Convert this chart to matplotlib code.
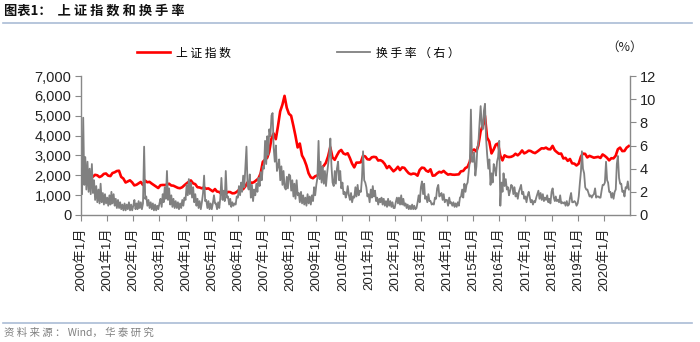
import matplotlib
matplotlib.use("Agg")
import matplotlib.pyplot as plt
import pandas as pd

plt.rcParams['font.family'] = ['Liberation Sans', 'Noto Sans CJK SC', 'DejaVu Sans']

# ---------------- data ----------------
years = list(range(2000, 2021))
tick_labels = [f"{y}年1月" for y in years]

# Shanghai Composite index, monthly (approx. mid-month), 2000-01 .. 2020-12
sse_index = [
    1560, 1714, 1800, 1836, 1894, 1928, 2023, 2000, 1910, 1961, 2070, 2090,   # 2000
    1980, 1960, 2112, 2150, 2214, 2230, 1920, 1834, 1636, 1690, 1746, 1646,   # 2001
    1491, 1524, 1594, 1665, 1515, 1732, 1649, 1669, 1582, 1507, 1426, 1358,   # 2002
    1500, 1512, 1510, 1521, 1576, 1487, 1476, 1421, 1367, 1349, 1397, 1497,   # 2003
    1590, 1675, 1742, 1595, 1555, 1400, 1386, 1342, 1396, 1320, 1341, 1267,   # 2004
    1191, 1306, 1181, 1159, 1060, 1081, 1083, 1162, 1155, 1092, 1099, 1161,   # 2005
    1259, 1299, 1299, 1440, 1641, 1672, 1612, 1658, 1752, 1837, 2099, 2675,   # 2006
    2786, 2881, 3183, 3841, 4109, 3820, 4471, 5218, 5552, 6000, 5400, 5100,   # 2007
    5000, 4500, 4000, 3400, 3600, 3000, 2800, 2500, 2100, 1900, 1850, 1950,   # 2008
    1991, 2082, 2374, 2477, 2633, 2959, 3412, 2900, 2779, 2996, 3195, 3277,   # 2009
    3100, 3051, 3110, 2871, 2592, 2398, 2638, 2639, 2655, 2979, 2950, 2808,   # 2010
    2790, 2905, 2928, 2911, 2743, 2762, 2701, 2568, 2359, 2468, 2333, 2199,   # 2011
    2293, 2429, 2263, 2397, 2373, 2225, 2103, 2047, 2086, 2069, 1980, 2269,   # 2012
    2385, 2366, 2237, 2178, 2301, 1979, 1994, 2098, 2175, 2141, 2221, 2116,   # 2013
    2033, 2056, 2033, 2026, 2039, 2048, 2202, 2217, 2364, 2420, 2683, 3235,   # 2014
    3300, 3200, 3500, 4200, 4500, 5000, 3900, 3700, 3100, 3300, 3550, 3600,   # 2015
    3000, 2750, 3004, 2938, 2917, 2930, 2979, 3085, 3005, 3100, 3250, 3104,   # 2016
    3159, 3242, 3223, 3155, 3117, 3192, 3273, 3361, 3349, 3393, 3317, 3307,   # 2017
    3481, 3259, 3169, 3082, 3095, 2847, 2876, 2725, 2821, 2603, 2588, 2494,   # 2018
    2585, 2941, 3091, 3078, 2899, 2979, 2932, 2886, 2905, 2929, 2872, 3050,   # 2019
    2977, 2880, 2750, 2860, 2852, 2985, 3310, 3396, 3218, 3225, 3392, 3473,   # 2020
]

# Turnover rate (%), twice per month (band high / low readings), 2000-01 .. 2020-12
turnover = [
    4.0, 1.8, 8.4, 2.6, 5.0, 2.2, 4.6, 2.0, 4.0, 1.8, 4.4, 1.9, 3.0, 1.3, 2.5, 1.1, 2.2, 1.0, 2.7, 1.1, 1.9, 0.9, 1.8, 1.0,  # 2000
    1.5, 0.8, 1.7, 0.9, 2.0, 1.0, 1.8, 0.8, 1.4, 0.6, 1.3, 0.6, 1.1, 0.5, 0.9, 0.4, 1.0, 0.4, 0.9, 0.5, 1.1, 0.4, 0.9, 0.4,  # 2001
    0.8, 1.3, 0.5, 1.0, 0.5, 1.2, 0.6, 1.1, 0.5, 1.0, 5.9, 1.4, 1.6, 0.8, 1.3, 0.6, 1.1, 0.5, 1.0, 0.4, 0.9, 0.4, 0.8, 0.5,  # 2002
    1.0, 1.4, 0.7, 1.8, 1.1, 2.4, 1.4, 3.8, 1.3, 2.3, 0.9, 1.7, 0.7, 1.4, 0.6, 1.2, 0.6, 1.1, 0.5, 1.0, 0.6, 1.3, 0.8, 1.5,  # 2003
    1.3, 2.6, 1.7, 3.1, 1.8, 2.8, 1.5, 2.4, 1.1, 1.8, 0.8, 1.4, 0.6, 1.2, 0.5, 1.1, 1.9, 3.4, 1.2, 1.3, 0.6, 1.2, 0.5, 1.0,  # 2004
    0.5, 1.0, 1.7, 1.0, 1.0, 0.5, 1.1, 0.6, 1.5, 3.2, 1.3, 2.1, 1.2, 3.8, 1.5, 1.6, 0.9, 1.4, 0.7, 1.1, 0.8, 1.0, 0.9, 1.6,  # 2005
    1.5, 2.5, 1.7, 2.8, 2.0, 3.4, 2.4, 4.2, 5.9, 2.6, 2.2, 3.5, 1.5, 2.6, 1.2, 2.2, 1.7, 2.7, 2.0, 3.2, 2.5, 3.7, 3.0, 4.2,  # 2006
    4.0, 6.4, 4.4, 6.8, 5.2, 7.4, 6.8, 8.6, 8.8, 5.8, 4.6, 6.0, 3.8, 4.2, 4.8, 3.0, 4.2, 2.6, 3.8, 2.4, 2.2, 3.3, 2.3, 3.5,  # 2007
    3.4, 2.1, 3.0, 1.6, 2.7, 1.4, 3.0, 1.7, 1.9, 1.1, 2.0, 1.0, 1.7, 0.9, 1.5, 0.8, 1.8, 1.0, 1.6, 0.9, 1.7, 1.2, 2.4, 1.7,  # 2008
    2.6, 3.2, 6.4, 3.1, 4.6, 2.8, 4.2, 2.7, 3.8, 2.5, 3.6, 4.4, 5.2, 6.6, 4.2, 2.8, 2.5, 3.8, 2.7, 4.0, 4.6, 3.0, 3.8, 2.3,  # 2009
    2.8, 1.8, 2.0, 1.5, 1.8, 2.5, 1.7, 1.3, 1.9, 1.1, 1.6, 1.5, 2.4, 1.6, 2.6, 1.7, 2.1, 2.0, 3.2, 5.5, 3.0, 2.8, 2.4, 1.6,  # 2010
    1.8, 1.1, 2.2, 1.5, 2.5, 1.6, 2.1, 1.2, 1.5, 0.9, 1.4, 1.1, 1.5, 0.9, 1.4, 0.8, 1.2, 0.7, 1.4, 0.8, 1.2, 0.7, 1.1, 0.6,  # 2011
    0.6, 1.1, 1.5, 1.0, 1.5, 0.9, 1.7, 0.9, 1.4, 0.8, 1.0, 0.6, 0.9, 0.5, 0.8, 0.5, 0.9, 0.5, 0.8, 0.5, 0.6, 1.1, 1.7, 1.1,  # 2012
    2.4, 2.9, 1.8, 2.7, 1.4, 1.6, 1.1, 1.8, 1.2, 1.2, 0.9, 1.0, 0.9, 1.5, 1.4, 2.3, 2.6, 1.6, 1.7, 1.9, 1.3, 1.8, 1.1, 1.3,  # 2013
    1.3, 0.8, 1.5, 1.0, 1.1, 0.8, 1.1, 0.7, 1.0, 0.7, 1.1, 0.8, 1.5, 1.6, 2.2, 1.5, 2.7, 2.0, 2.6, 2.8, 3.8, 4.6, 9.1, 4.6,  # 2014
    4.6, 5.4, 3.4, 4.2, 5.8, 6.2, 8.0, 9.4, 7.8, 7.4, 9.0, 9.6, 6.6, 5.2, 4.0, 4.8, 2.6, 3.6, 2.8, 4.4, 4.0, 3.4, 4.6, 5.0,  # 2015
    6.4, 0.8, 2.8, 2.0, 3.6, 2.5, 3.1, 2.2, 2.4, 1.7, 2.1, 2.6, 2.5, 1.8, 2.4, 1.6, 1.9, 1.4, 2.0, 2.3, 2.6, 1.8, 2.0, 1.4,  # 2016
    1.6, 1.1, 1.7, 2.0, 1.6, 1.1, 1.3, 0.9, 1.2, 1.1, 1.5, 1.8, 2.1, 1.4, 1.9, 1.3, 1.8, 1.2, 1.5, 1.3, 1.7, 1.1, 1.4, 1.0,  # 2017
    2.0, 2.3, 1.5, 1.2, 1.6, 1.2, 1.3, 1.1, 1.7, 1.0, 1.1, 1.0, 1.1, 0.8, 1.2, 0.8, 0.9, 1.5, 1.9, 1.1, 1.1, 1.2, 1.1, 0.8,  # 2018
    1.0, 1.6, 2.8, 3.8, 5.5, 4.0, 3.6, 2.4, 2.2, 2.2, 1.9, 1.6, 1.7, 1.5, 1.7, 1.8, 2.3, 1.5, 1.6, 1.6, 1.5, 1.5, 2.1, 2.6,  # 2019
    2.6, 2.8, 4.6, 3.0, 2.8, 2.0, 2.0, 1.5, 1.9, 1.4, 2.0, 2.2, 4.4, 5.1, 3.2, 2.7, 2.7, 2.0, 2.1, 1.6, 2.4, 2.3, 2.9, 2.2,  # 2020
]

idx_dates = pd.date_range("2000-01-01", periods=len(sse_index), freq="MS") + pd.Timedelta(days=14)
months = pd.date_range("2000-01-01", periods=len(turnover) // 2, freq="MS")
to_dates = []
for m in months:
    to_dates.append(m)
    to_dates.append(m + pd.Timedelta(days=15))

# ---------------- figure ----------------
W, H = 700, 342
fig = plt.figure(figsize=(W / 100, H / 100), dpi=100)
ax = fig.add_axes([81 / W, 1 - 215 / H, (630 - 81) / W, (215 - 76) / H])
ax2 = ax.twinx()

spine_c = "#898989"
red = "#ff0000"
gray = "#808080"

l1, = ax.plot(idx_dates, sse_index, color=red, lw=1.9, label="上 证 指 数")
l2, = ax2.plot(to_dates, turnover, color=gray, lw=1.3, label="换 手 率 （ 右 ）")

ax.set_xlim(pd.Timestamp("2000-01-01"), pd.Timestamp("2021-01-01"))
ax.set_ylim(0, 7000)
ax2.set_ylim(0, 12)
ax.set_yticks(range(0, 7001, 1000))
ax.set_yticklabels([f"{v:,}" for v in range(0, 7001, 1000)])
ax2.set_yticks(range(0, 13, 2))

tick_dates = [pd.Timestamp(f"{y}-01-01") for y in years]
ax.set_xticks(tick_dates)
ax.set_xticklabels(tick_labels, rotation=90, fontsize=9.5, color="#222222",
                   family=['Liberation Sans', 'Noto Sans CJK SC'])

for a in (ax, ax2):
    a.spines['top'].set_visible(False)
    for s in ('left', 'right', 'bottom'):
        a.spines[s].set_color(spine_c)
        a.spines[s].set_linewidth(1.0)
ax.spines['right'].set_visible(False)
ax2.spines['left'].set_visible(False)
ax2.spines['bottom'].set_visible(False)

ax.tick_params(axis='x', direction='out', length=4, color=spine_c, pad=5)
ax.tick_params(axis='y', direction='out', length=4, color=spine_c, labelsize=10.5, labelcolor="#222222", pad=3)
ax2.tick_params(axis='y', direction='out', length=4, color=spine_c, labelsize=10.5, labelcolor="#222222", pad=3)

# legend
fig.legend(handles=[l1, l2], loc='center left', bbox_to_anchor=(137 / W, 1 - 53 / H),
           ncol=2, frameon=False, borderpad=0, borderaxespad=0, handlelength=2.8,
           handletextpad=0.5, columnspacing=9.0,
           prop={'family': ['Noto Sans CJK SC', 'DejaVu Sans'], 'size': 8.5})

fig.text(625 / W, 1 - 47 / H, "（%）", ha='center', va='center', fontsize=9,
         family=['Noto Sans CJK SC', 'DejaVu Sans'], color="#222222")

# title & lines
fig.text(4 / W, 1 - 11 / H, "图表1：  上 证 指 数 和 换 手 率", ha='left', va='center',
         fontsize=9.5, fontweight='bold', family=['Noto Sans CJK SC', 'DejaVu Sans'], color="#111111")
fig.add_artist(plt.Line2D([3 / W, 692 / W], [1 - 23 / H, 1 - 23 / H], color="#aabcd6", lw=1.2))
fig.add_artist(plt.Line2D([3 / W, 692 / W], [1 - 323 / H, 1 - 323 / H], color="#aabcd6", lw=1.2))
fig.text(4 / W, 1 - 333 / H, "资 料 来 源 ： Wind， 华 泰 研 究", ha='left', va='center',
         fontsize=7.5, family=['Noto Sans CJK SC', 'DejaVu Sans'], color="#808080")

fig.savefig("out.png", dpi=100)
